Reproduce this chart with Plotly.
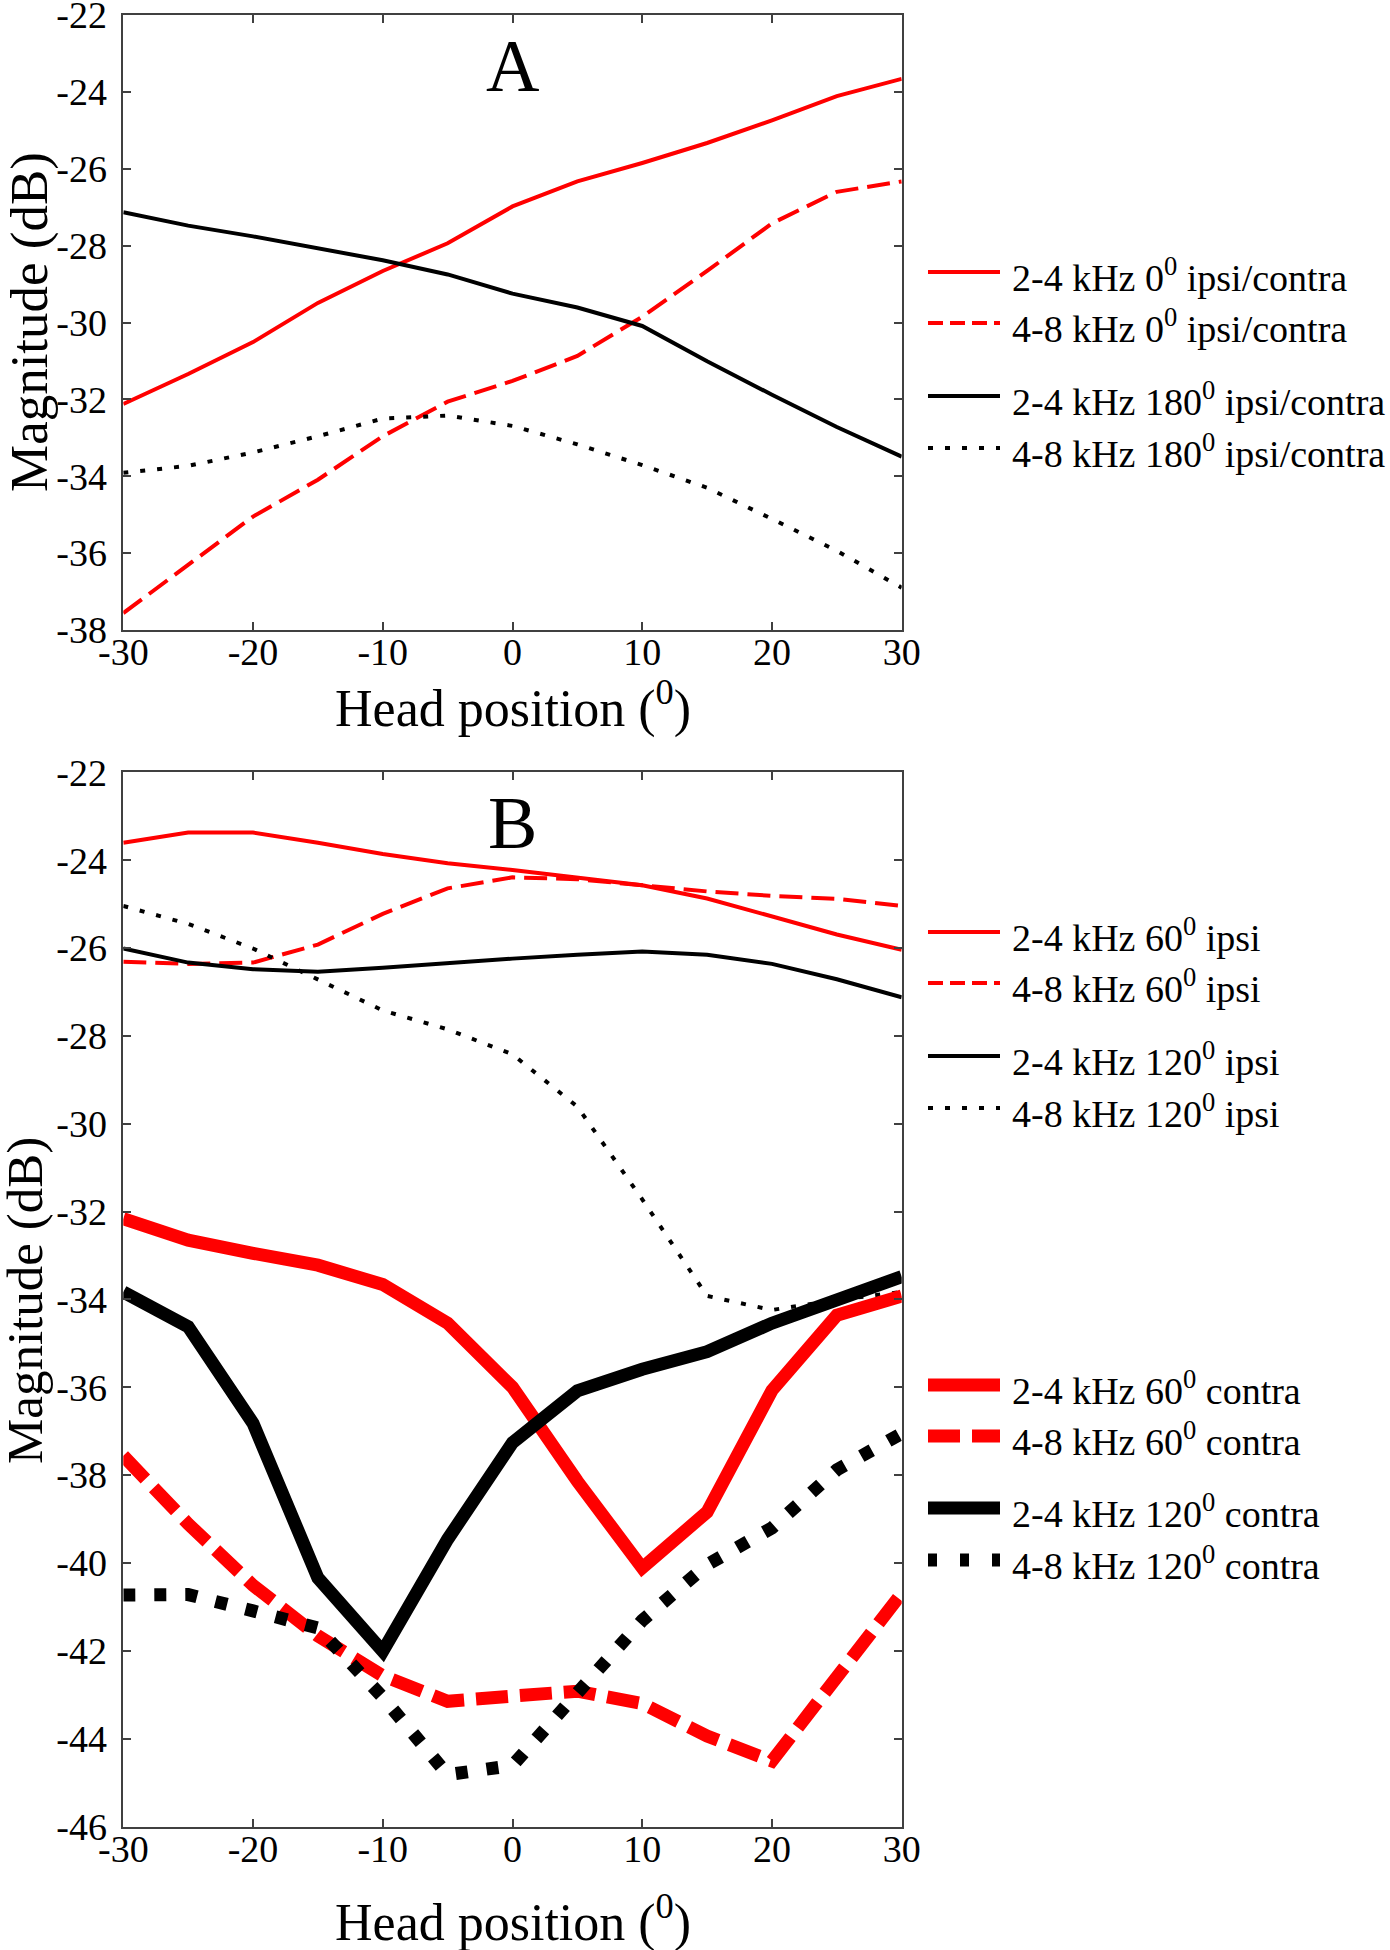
import plotly.graph_objects as go

# ---------------- data ----------------
head_pos = [-30, -25, -20, -15, -10, -5, 0, 5, 10, 15, 20, 25, 30]

# Panel A
a_24k_0 = [-32.12, -31.34, -30.51, -29.49, -28.66, -27.94, -26.98, -26.33, -25.85, -25.33, -24.74, -24.11, -23.66]
a_48k_0 = [-37.56, -36.30, -35.05, -34.09, -32.96, -32.06, -31.52, -30.87, -29.85, -28.66, -27.42, -26.60, -26.33]
a_24k_180 = [-27.13, -27.48, -27.76, -28.06, -28.38, -28.75, -29.25, -29.61, -30.09, -31.01, -31.88, -32.72, -33.49]
a_48k_180 = [-33.91, -33.73, -33.38, -32.96, -32.50, -32.42, -32.69, -33.17, -33.71, -34.30, -35.11, -35.94, -36.90]

# Panel B
b_24k_60i = [-23.60, -23.37, -23.37, -23.60, -23.86, -24.07, -24.22, -24.39, -24.57, -24.87, -25.27, -25.69, -26.04]
b_48k_60i = [-26.31, -26.36, -26.33, -25.92, -25.22, -24.64, -24.39, -24.43, -24.57, -24.71, -24.81, -24.88, -25.04]
b_24k_120i = [-26.01, -26.33, -26.48, -26.54, -26.45, -26.34, -26.24, -26.15, -26.08, -26.15, -26.36, -26.71, -27.12]
b_48k_120i = [-25.04, -25.45, -26.01, -26.71, -27.42, -27.85, -28.42, -29.61, -31.72, -33.92, -34.24, -34.01, -33.83]
b_24k_60c = [-32.16, -32.65, -32.95, -33.22, -33.66, -34.54, -36.00, -38.14, -40.11, -38.84, -36.07, -34.36, -33.92]
b_48k_60c = [-37.56, -39.11, -40.51, -41.66, -42.57, -43.15, -43.03, -42.92, -43.20, -43.94, -44.51, -42.54, -40.69]
b_24k_120c = [-33.83, -34.62, -36.82, -40.34, -42.01, -39.46, -37.26, -36.08, -35.59, -35.19, -34.54, -34.01, -33.48]
b_48k_120c = [-40.73, -40.72, -41.09, -41.48, -43.06, -44.82, -44.61, -42.98, -41.31, -40.04, -39.20, -37.88, -37.05]

names_a = ["2-4 kHz 0<sup>0</sup> ipsi/contra", "4-8 kHz 0<sup>0</sup> ipsi/contra",
           "2-4 kHz 180<sup>0</sup> ipsi/contra", "4-8 kHz 180<sup>0</sup> ipsi/contra"]
names_b_ipsi = ["2-4 kHz 60<sup>0</sup> ipsi", "4-8 kHz 60<sup>0</sup> ipsi",
                "2-4 kHz 120<sup>0</sup> ipsi", "4-8 kHz 120<sup>0</sup> ipsi"]
names_b_contra = ["2-4 kHz 60<sup>0</sup> contra", "4-8 kHz 60<sup>0</sup> contra",
                  "2-4 kHz 120<sup>0</sup> contra", "4-8 kHz 120<sup>0</sup> contra"]

x_ticks = [-30, -20, -10, 0, 10, 20, 30]
ya_ticks = list(range(-38, -21, 2))
yb_ticks = list(range(-46, -21, 2))

# ---------------- styles ----------------
RED = "#ff0000"
BLK = "#000000"
THIN = 4
THICK = 13
thin_styles = [
    dict(color=RED, width=THIN, dash="solid"),
    dict(color=RED, width=THIN, dash="23px,9px"),
    dict(color=BLK, width=THIN, dash="solid"),
    dict(color=BLK, width=THIN, dash="5px,12px"),
]
thick_styles = [
    dict(color=RED, width=THICK, dash="solid"),
    dict(color=RED, width=THICK, dash="32px,12px"),
    dict(color=BLK, width=THICK, dash="solid"),
    dict(color=BLK, width=THICK, dash="12px,19px"),
]
legend_thin_dash = ["solid", "15px,7px", "solid", "5px,12px"]
legend_thick_dash = ["solid", "32px,12px", "solid", "9px,23px"]

W, H = 1390, 1950
FONT = "Liberation Serif"

fig = go.Figure()

for ys, st, nm in zip([a_24k_0, a_48k_0, a_24k_180, a_48k_180], thin_styles, names_a):
    fig.add_trace(go.Scatter(x=head_pos, y=ys, mode="lines", line=st, name=nm,
                             xaxis="x", yaxis="y", showlegend=False))
for ys, st, nm in zip([b_24k_60i, b_48k_60i, b_24k_120i, b_48k_120i], thin_styles, names_b_ipsi):
    fig.add_trace(go.Scatter(x=head_pos, y=ys, mode="lines", line=st, name=nm,
                             xaxis="x2", yaxis="y2", showlegend=False))
for ys, st, nm in zip([b_24k_60c, b_48k_60c, b_24k_120c, b_48k_120c], thick_styles, names_b_contra):
    fig.add_trace(go.Scatter(x=head_pos, y=ys, mode="lines", line=st, name=nm,
                             xaxis="x2", yaxis="y2", showlegend=False))

xdom = [123.3 / W, 901.7 / W]
ydom_a = [1 - 630 / H, 1 - 15 / H]
ydom_b = [1 - 1826.5 / H, 1 - 772.4 / H]

axis_common = dict(showline=True, mirror="ticks", linecolor="#404040", linewidth=1.5,
                   ticks="inside", ticklen=8, tickwidth=1.5, tickcolor="#404040",
                   showgrid=False, zeroline=False, automargin=False,
                   ticklabeloverflow="allow",
                   tickfont=dict(family=FONT, size=38, color="black"))

def labels(vals):
    return [str(v) for v in vals]

fig.update_layout(
    width=W, height=H,
    paper_bgcolor="white", plot_bgcolor="white",
    margin=dict(l=0, r=0, t=0, b=0, autoexpand=False),
    xaxis=dict(domain=xdom, anchor="y", range=[-30, 30], tickvals=x_ticks, ticktext=labels(x_ticks),
               ticklabelstandoff=-12, **axis_common),
    yaxis=dict(domain=ydom_a, anchor="x", range=[-38, -22], tickvals=ya_ticks, ticktext=labels(ya_ticks),
               ticklabelstandoff=7, **axis_common),
    xaxis2=dict(domain=xdom, anchor="y2", range=[-30, 30], tickvals=x_ticks, ticktext=labels(x_ticks),
                ticklabelstandoff=-12, **axis_common),
    yaxis2=dict(domain=ydom_b, anchor="x2", range=[-46, -22], tickvals=yb_ticks, ticktext=labels(yb_ticks),
                ticklabelstandoff=7, **axis_common),
    showlegend=False,
)

annos = []
# panel labels
annos.append(dict(text="A", x=0, xref="x", y=1 - 66 / H, yref="paper", showarrow=False,
                  xanchor="center", yanchor="middle", font=dict(family=FONT, size=74, color="black")))
annos.append(dict(text="B", x=0, xref="x2", y=1 - 823 / H, yref="paper", showarrow=False,
                  xanchor="center", yanchor="middle", font=dict(family=FONT, size=74, color="black")))
# axis titles (bottom of text box = baseline + descent)
XT = 52
xc = (xdom[0] + xdom[1]) / 2
for base in [728, 1942]:
    annos.append(dict(text="Head position (<sup>0</sup>)", x=xc, xref="paper",
                      y=1 - (base + 0.216 * XT + 1) / H, yref="paper",
                      showarrow=False, xanchor="center", yanchor="bottom",
                      font=dict(family=FONT, size=XT, color="black")))
annos.append(dict(text="Magnitude (dB)", x=29 / W, xref="paper", y=1 - 322 / H, yref="paper",
                  showarrow=False, textangle=-90, xanchor="center", yanchor="middle",
                  font=dict(family=FONT, size=53, color="black")))
annos.append(dict(text="Magnitude (dB)", x=25 / W, xref="paper", y=1 - 1301 / H, yref="paper",
                  showarrow=False, textangle=-90, xanchor="center", yanchor="middle",
                  font=dict(family=FONT, size=51, color="black")))

# legends (drawn manually)
shapes = []
LX0, LX1, TX = 928 / W, 1000 / W, 1010 / W

def add_legend(names, styles, dashes, rows_px):
    for nm, st, dsh, yp in zip(names, styles, dashes, rows_px):
        yy = 1 - yp / H
        shapes.append(dict(type="line", xref="paper", yref="paper", x0=LX0, x1=LX1, y0=yy, y1=yy,
                           line=dict(color=st["color"], width=st["width"], dash=dsh)))
        annos.append(dict(text=nm, x=TX, xref="paper", y=1 - (yp + 3) / H, yref="paper",
                          showarrow=False, xanchor="left", yanchor="middle",
                          font=dict(family=FONT, size=38, color="black")))

add_legend(names_a, thin_styles, legend_thin_dash, [272, 323, 396, 448])
add_legend(names_b_ipsi, thin_styles, legend_thin_dash, [932, 983, 1056, 1108])
add_legend(names_b_contra, thick_styles, legend_thick_dash, [1385, 1436, 1508, 1560])

fig.update_layout(annotations=annos, shapes=shapes)
fig.write_html("out.html", config={"displayModeBar": False},
               post_script="document.body.style.margin='0';document.body.style.overflow='hidden';"
                           "document.documentElement.style.overflow='hidden';")
